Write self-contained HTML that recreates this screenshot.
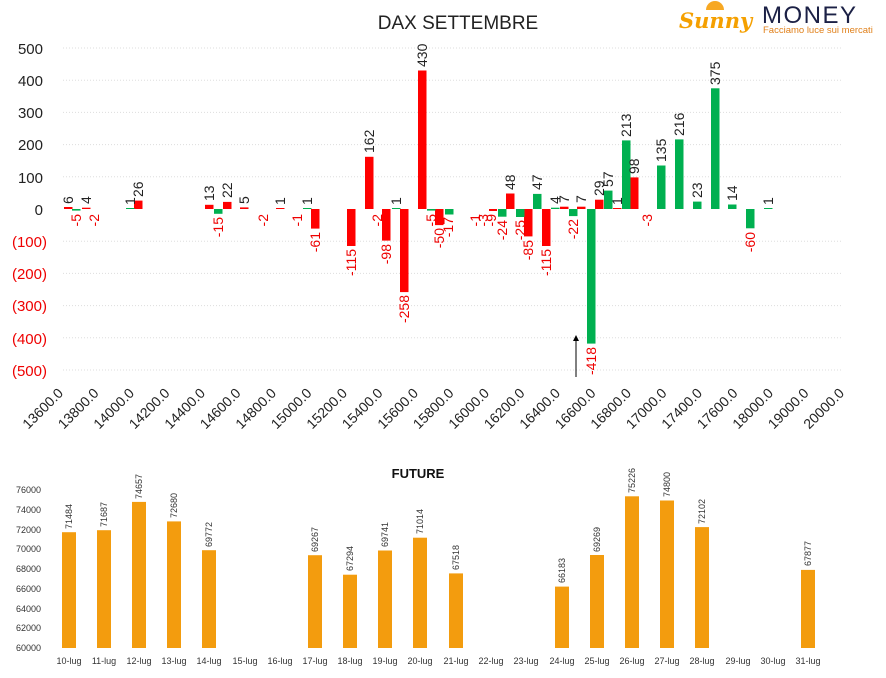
<!DOCTYPE html>
<html><head><meta charset="utf-8"><style>
body{margin:0;background:#fff;}
svg{display:block;font-family:"Liberation Sans","DejaVu Sans",sans-serif;}
</style></head><body>
<svg width="886" height="678" viewBox="0 0 886 678" xmlns="http://www.w3.org/2000/svg">
<rect width="886" height="678" fill="#fff"/>
<text x="458" y="29" font-size="19" text-anchor="middle" fill="#222">DAX SETTEMBRE</text>
<!-- logo -->
<path d="M706 10 a9 9 0 0 1 18 0 z" fill="#f7a823"/>
<text x="679" y="28" font-size="21" font-style="italic" font-weight="bold" fill="#f5a000" font-family="'DejaVu Serif',serif">Sunny</text>
<text x="762" y="23" font-size="24" fill="#1b2045" letter-spacing="1.5">MONEY</text>
<text x="763" y="33" font-size="9.5" fill="#e0801a">Facciamo luce sui mercati</text>
<!-- grid -->
<g stroke="#ddd" stroke-dasharray="1,2" stroke-width="1">
<line x1="63" x2="843" y1="48" y2="48"/><line x1="63" x2="843" y1="80.2" y2="80.2"/><line x1="63" x2="843" y1="112.4" y2="112.4"/><line x1="63" x2="843" y1="144.6" y2="144.6"/><line x1="63" x2="843" y1="176.8" y2="176.8"/><line x1="63" x2="843" y1="241.2" y2="241.2"/><line x1="63" x2="843" y1="273.4" y2="273.4"/><line x1="63" x2="843" y1="305.6" y2="305.6"/><line x1="63" x2="843" y1="337.8" y2="337.8"/><line x1="63" x2="843" y1="370" y2="370"/>
</g>
<g font-size="15" text-anchor="end">
<text x="43" y="54" fill="#222">500</text><text x="43" y="86" fill="#222">400</text><text x="43" y="118" fill="#222">300</text><text x="43" y="150" fill="#222">200</text><text x="43" y="183" fill="#222">100</text><text x="43" y="215" fill="#222">0</text>
<text x="47" y="247" fill="#e00">(100)</text><text x="47" y="279" fill="#e00">(200)</text><text x="47" y="311" fill="#e00">(300)</text><text x="47" y="344" fill="#e00">(400)</text><text x="47" y="376" fill="#e00">(500)</text>
</g>
<!-- red bars -->
<g fill="#ff0000">
<rect x="64" y="207" width="8.5" height="2"/>
<rect x="82" y="207.7" width="8.5" height="1.3"/>
<rect x="134" y="200.6" width="8.5" height="8.4"/>
<rect x="205" y="204.8" width="8.5" height="4.2"/>
<rect x="223" y="201.9" width="8.5" height="7.1"/>
<rect x="240" y="207.4" width="8.5" height="1.6"/>
<rect x="276" y="208" width="8.5" height="1"/>
<rect x="311" y="209" width="8.5" height="19.6"/>
<rect x="347" y="209" width="8.5" height="37"/>
<rect x="365" y="156.8" width="8.5" height="52.2"/>
<rect x="382" y="209" width="8.5" height="31.6"/>
<rect x="400" y="209" width="8.5" height="83.1"/>
<rect x="418" y="70.5" width="8.5" height="138.5"/>
<rect x="435" y="209" width="8.5" height="16.1"/>
<rect x="489" y="209" width="8" height="2"/>
<rect x="506" y="193.5" width="8.5" height="15.5"/>
<rect x="524" y="209" width="8.5" height="27.4"/>
<rect x="542" y="209" width="8.5" height="37"/>
<rect x="560" y="206.7" width="8.5" height="2.3"/>
<rect x="577" y="206.7" width="8.5" height="2.3"/>
<rect x="595" y="199.7" width="8.5" height="9.3"/>
<rect x="613" y="208" width="8.5" height="1"/>
<rect x="630" y="177.4" width="8.5" height="31.6"/>
</g>
<!-- green bars -->
<g fill="#00b050">
<rect x="72" y="209" width="8.5" height="1.6"/>
<rect x="126" y="208" width="8.5" height="1"/>
<rect x="214" y="209" width="8.5" height="4.8"/>
<rect x="303" y="208" width="8.5" height="1"/>
<rect x="392" y="208" width="8.5" height="1"/>
<rect x="427" y="209" width="8.5" height="1.6"/>
<rect x="445" y="209" width="8.5" height="5.5"/>
<rect x="498" y="209" width="8.5" height="7.7"/>
<rect x="516" y="209" width="8.5" height="8"/>
<rect x="533" y="193.9" width="8.5" height="15.1"/>
<rect x="551" y="207.7" width="8.5" height="1.3"/>
<rect x="569" y="209" width="8.5" height="7.1"/>
<rect x="587" y="209" width="8.5" height="134.6"/>
<rect x="604" y="190.6" width="8.5" height="18.4"/>
<rect x="622" y="140.4" width="8.5" height="68.6"/>
<rect x="657" y="165.5" width="8.5" height="43.5"/>
<rect x="675" y="139.4" width="8.5" height="69.6"/>
<rect x="693" y="201.6" width="8.5" height="7.4"/>
<rect x="711" y="88.3" width="8.5" height="120.7"/>
<rect x="728" y="204.5" width="8.5" height="4.5"/>
<rect x="746" y="209" width="8.5" height="19.3"/>
<rect x="764" y="208" width="8.5" height="1"/>
</g>
<!-- positive labels -->
<g font-size="14" fill="#222">
<text transform="translate(73,204) rotate(-90)">6</text>
<text transform="translate(91,204) rotate(-90)">4</text>
<text transform="translate(135,205) rotate(-90)">1</text>
<text transform="translate(143,197) rotate(-90)">26</text>
<text transform="translate(214,201) rotate(-90)">13</text>
<text transform="translate(232,198) rotate(-90)">22</text>
<text transform="translate(249,204) rotate(-90)">5</text>
<text transform="translate(285,205) rotate(-90)">1</text>
<text transform="translate(312,205) rotate(-90)">1</text>
<text transform="translate(374,153) rotate(-90)">162</text>
<text transform="translate(401,205) rotate(-90)">1</text>
<text transform="translate(427,67) rotate(-90)">430</text>
<text transform="translate(515,190) rotate(-90)">48</text>
<text transform="translate(542,190) rotate(-90)">47</text>
<text transform="translate(560,204) rotate(-90)">4</text>
<text transform="translate(569,203) rotate(-90)">7</text>
<text transform="translate(586,203) rotate(-90)">7</text>
<text transform="translate(604,196) rotate(-90)">29</text>
<text transform="translate(613,187) rotate(-90)">57</text>
<text transform="translate(622,205) rotate(-90)">1</text>
<text transform="translate(631,137) rotate(-90)">213</text>
<text transform="translate(639,174) rotate(-90)">98</text>
<text transform="translate(666,162) rotate(-90)">135</text>
<text transform="translate(684,136) rotate(-90)">216</text>
<text transform="translate(702,198) rotate(-90)">23</text>
<text transform="translate(720,85) rotate(-90)">375</text>
<text transform="translate(737,201) rotate(-90)">14</text>
<text transform="translate(773,205) rotate(-90)">1</text>
</g>
<!-- negative labels -->
<g font-size="14" fill="#e00" text-anchor="end">
<text transform="translate(81,214) rotate(-90)">-5</text>
<text transform="translate(99,214) rotate(-90)">-2</text>
<text transform="translate(223,217) rotate(-90)">-15</text>
<text transform="translate(268,214) rotate(-90)">-2</text>
<text transform="translate(302,214) rotate(-90)">-1</text>
<text transform="translate(320,232) rotate(-90)">-61</text>
<text transform="translate(356,249) rotate(-90)">-115</text>
<text transform="translate(382,214) rotate(-90)">-2</text>
<text transform="translate(391,244) rotate(-90)">-98</text>
<text transform="translate(409,295) rotate(-90)">-258</text>
<text transform="translate(436,214) rotate(-90)">-5</text>
<text transform="translate(444,228) rotate(-90)">-50</text>
<text transform="translate(453,217) rotate(-90)">-17</text>
<text transform="translate(480,214) rotate(-90)">-1</text>
<text transform="translate(488,214) rotate(-90)">-3</text>
<text transform="translate(496,214) rotate(-90)">-9</text>
<text transform="translate(507,220) rotate(-90)">-24</text>
<text transform="translate(525,220) rotate(-90)">-25</text>
<text transform="translate(533,240) rotate(-90)">-85</text>
<text transform="translate(551,249) rotate(-90)">-115</text>
<text transform="translate(578,219) rotate(-90)">-22</text>
<text transform="translate(596,347) rotate(-90)">-418</text>
<text transform="translate(652,214) rotate(-90)">-3</text>
<text transform="translate(755,232) rotate(-90)">-60</text>
</g>
<!-- arrow -->
<line x1="576" y1="377" x2="576" y2="340" stroke="#000" stroke-width="1"/>
<path d="M573 341 L576 335 L579 341 Z" fill="#000"/>
<!-- x labels -->
<g font-size="14" fill="#222" text-anchor="end">
<text transform="translate(64,394) rotate(-45)">13600.0</text>
<text transform="translate(99.5,394) rotate(-45)">13800.0</text>
<text transform="translate(135,394) rotate(-45)">14000.0</text>
<text transform="translate(170.5,394) rotate(-45)">14200.0</text>
<text transform="translate(206,394) rotate(-45)">14400.0</text>
<text transform="translate(241.5,394) rotate(-45)">14600.0</text>
<text transform="translate(277,394) rotate(-45)">14800.0</text>
<text transform="translate(312.5,394) rotate(-45)">15000.0</text>
<text transform="translate(348,394) rotate(-45)">15200.0</text>
<text transform="translate(383.5,394) rotate(-45)">15400.0</text>
<text transform="translate(419,394) rotate(-45)">15600.0</text>
<text transform="translate(454.5,394) rotate(-45)">15800.0</text>
<text transform="translate(490,394) rotate(-45)">16000.0</text>
<text transform="translate(525.5,394) rotate(-45)">16200.0</text>
<text transform="translate(561,394) rotate(-45)">16400.0</text>
<text transform="translate(596.5,394) rotate(-45)">16600.0</text>
<text transform="translate(632,394) rotate(-45)">16800.0</text>
<text transform="translate(667.5,394) rotate(-45)">17000.0</text>
<text transform="translate(703,394) rotate(-45)">17400.0</text>
<text transform="translate(738.5,394) rotate(-45)">17600.0</text>
<text transform="translate(774,394) rotate(-45)">18000.0</text>
<text transform="translate(809.5,394) rotate(-45)">19000.0</text>
<text transform="translate(845,394) rotate(-45)">20000.0</text>
</g>
<!-- FUTURE chart -->
<text x="418" y="478" font-size="13" font-weight="bold" text-anchor="middle" fill="#111">FUTURE</text>
<g font-size="9" fill="#333" text-anchor="end">
<text x="41" y="493">76000</text><text x="41" y="513">74000</text><text x="41" y="533">72000</text><text x="41" y="552">70000</text><text x="41" y="572">68000</text><text x="41" y="592">66000</text><text x="41" y="612">64000</text><text x="41" y="631">62000</text><text x="41" y="651">60000</text>
</g>
<g fill="#f39c0e">
<rect x="62" y="532.2" width="14" height="115.8"/>
<rect x="97" y="530.2" width="14" height="117.8"/>
<rect x="132" y="501.9" width="14" height="146.1"/>
<rect x="167" y="521.4" width="14" height="126.6"/>
<rect x="202" y="550.2" width="14" height="97.8"/>
<rect x="308" y="555.2" width="14" height="92.8"/>
<rect x="343" y="574.7" width="14" height="73.3"/>
<rect x="378" y="550.5" width="14" height="97.5"/>
<rect x="413" y="537.7" width="14" height="110.3"/>
<rect x="449" y="573.4" width="14" height="74.6"/>
<rect x="555" y="586.6" width="14" height="61.4"/>
<rect x="590" y="555" width="14" height="93"/>
<rect x="625" y="496.3" width="14" height="151.7"/>
<rect x="660" y="500.5" width="14" height="147.5"/>
<rect x="695" y="527.1" width="14" height="120.9"/>
<rect x="801" y="569.9" width="14" height="78.1"/>
</g>
<g font-size="9" fill="#333">
<text transform="translate(72,529) rotate(-90)">71484</text>
<text transform="translate(107,527) rotate(-90)">71687</text>
<text transform="translate(142,499) rotate(-90)">74657</text>
<text transform="translate(177,518) rotate(-90)">72680</text>
<text transform="translate(212,547) rotate(-90)">69772</text>
<text transform="translate(318,552) rotate(-90)">69267</text>
<text transform="translate(353,571) rotate(-90)">67294</text>
<text transform="translate(388,547) rotate(-90)">69741</text>
<text transform="translate(423,534) rotate(-90)">71014</text>
<text transform="translate(459,570) rotate(-90)">67518</text>
<text transform="translate(565,583) rotate(-90)">66183</text>
<text transform="translate(600,552) rotate(-90)">69269</text>
<text transform="translate(635,493) rotate(-90)">75226</text>
<text transform="translate(670,497) rotate(-90)">74800</text>
<text transform="translate(705,524) rotate(-90)">72102</text>
<text transform="translate(811,566) rotate(-90)">67877</text>
</g>
<g font-size="9" fill="#333" text-anchor="middle">
<text x="69" y="664">10-lug</text><text x="104" y="664">11-lug</text><text x="139" y="664">12-lug</text><text x="174" y="664">13-lug</text><text x="209" y="664">14-lug</text><text x="245" y="664">15-lug</text><text x="280" y="664">16-lug</text><text x="315" y="664">17-lug</text><text x="350" y="664">18-lug</text><text x="385" y="664">19-lug</text><text x="420" y="664">20-lug</text><text x="456" y="664">21-lug</text><text x="491" y="664">22-lug</text><text x="526" y="664">23-lug</text><text x="562" y="664">24-lug</text><text x="597" y="664">25-lug</text><text x="632" y="664">26-lug</text><text x="667" y="664">27-lug</text><text x="702" y="664">28-lug</text><text x="738" y="664">29-lug</text><text x="773" y="664">30-lug</text><text x="808" y="664">31-lug</text>
</g>
</svg>
</body></html>
